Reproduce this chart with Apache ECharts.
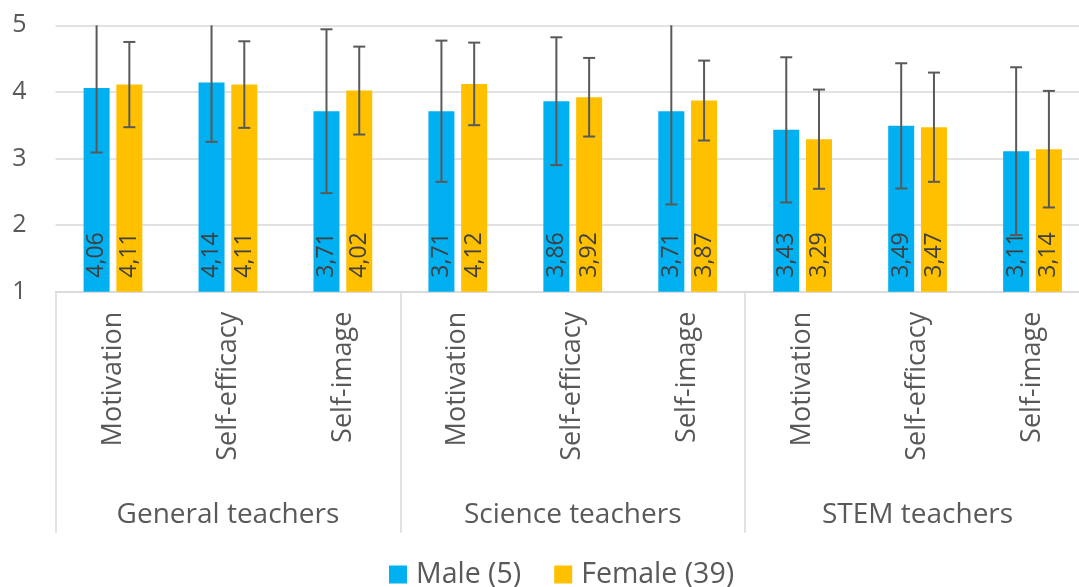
<!DOCTYPE html>
<html>
<head>
<meta charset="utf-8">
<script src="https://cdn.jsdelivr.net/npm/echarts@6/dist/echarts.min.js"></script>
<style>
  html, body { margin: 0; padding: 0; background: #fff; overflow: hidden; }
  /* le dernier groupe dépasse un peu à droite, comme sur l'original */
  #chart { width: 1090px; height: 587px; }
</style>
</head>
<body>
<div id="chart"></div>
<script>
// valeurs (moyennes + écart-type)
var categories = ['Motivation', 'Self-efficacy', 'Self-image',
  'Motivation', 'Self-efficacy', 'Self-image',
  'Motivation', 'Self-efficacy', 'Self-image']
var groups = ['General teachers', 'Science teachers', 'STEM teachers']
var yTicks = [1, 2, 3, 4, 5]

var maleName = 'Male (5)'
var femaleName = 'Female (39)'
var maleData = [4.06, 4.14, 3.71, 3.71, 3.86, 3.71, 3.43, 3.49, 3.11]
var femaleData = [4.11, 4.11, 4.02, 4.12, 3.92, 3.87, 3.29, 3.47, 3.14]
var maleSd = [0.97, 0.89, 1.23, 1.06, 0.96, 1.40, 1.09, 0.94, 1.26]
var femaleSd = [0.64, 0.65, 0.66, 0.62, 0.59, 0.60, 0.745, 0.82, 0.875]

var FONT = 'Open Sans'
var TXT = '#595959'
var LINE = '#d9d9d9'
var BAR_W = 26
var BAR_GAP = 0.26
var Y_MAX = yTicks[yTicks.length - 1]

var chart = echarts.init(document.getElementById('chart'))

function errorSeries(name, means, sds, side) {
  var offset = side * (BAR_W + BAR_W * BAR_GAP) / 2
  return {
    name: name,
    type: 'custom',
    z: 5,
    silent: true,
    data: means.map(function (m, i) { return [i, m, sds[i]] }),
    encode: { x: 0, y: 1 },
    renderItem: function (params, api) {
      var idx = api.value(0)
      var m = api.value(1)
      var sd = api.value(2)
      var hi = m + sd
      var lo = m - sd
      var top = api.coord([idx, Math.min(hi, Y_MAX)])
      var bot = api.coord([idx, lo])
      var x = top[0] + offset
      var style = { stroke: '#595959', lineWidth: 2 }
      var children = [
        { type: 'line', shape: { x1: x, y1: top[1], x2: x, y2: bot[1] }, style: style },
        { type: 'line', shape: { x1: x - 6, y1: bot[1], x2: x + 6, y2: bot[1] }, style: style }
      ]
      // la barre d'erreur est coupée au bord du graphique, pas de chapeau
      if (hi <= Y_MAX) {
        children.push({ type: 'line', shape: { x1: x - 6, y1: top[1], x2: x + 6, y2: top[1] }, style: style })
      }
      return { type: 'group', children: children }
    }
  }
}

var barLabel = {
  show: true,
  position: 'insideBottom',
  rotate: 90,
  align: 'left',
  verticalAlign: 'middle',
  distance: 14,
  color: '#404040',
  fontFamily: FONT,
  fontSize: 23,
  formatter: function (p) { return p.value.toFixed(2).replace('.', ',') }
}

chart.setOption({
  animation: false,
  textStyle: { fontFamily: FONT },
  grid: {
    left: 55.5,
    top: 25.3,
    width: 1034.5,
    height: 266.4,
    containLabel: false,
    outerBoundsMode: 'none'
  },
  legend: {
    data: [maleName, femaleName],
    left: 389,
    top: 560,
    padding: 0,
    itemWidth: 18,
    itemHeight: 18,
    itemGap: 33,
    icon: 'rect',
    textStyle: { color: TXT, fontSize: 28.5, fontFamily: FONT, padding: [0, 0, 0, 4] }
  },
  xAxis: [
    {
      type: 'category',
      data: categories,
      axisLine: { lineStyle: { color: LINE, width: 1.5 } },
      axisTick: { show: false },
      axisLabel: {
        interval: 0,
        rotate: 90,
        margin: 20,
        color: TXT,
        fontSize: 27,
        fontFamily: FONT
      }
    },
    {
      type: 'category',
      data: groups,
      position: 'bottom',
      axisLine: { show: false },
      axisTick: { show: true, length: 241, lineStyle: { color: LINE, width: 1.5 } },
      axisLabel: {
        interval: 0,
        margin: 209,
        color: TXT,
        fontSize: 28,
        fontFamily: FONT
      }
    }
  ],
  yAxis: {
    type: 'value',
    min: yTicks[0],
    max: Y_MAX,
    interval: 1,
    axisLine: { show: false },
    axisTick: { show: false },
    splitLine: { lineStyle: { color: LINE, width: 1.5 } },
    axisLabel: { margin: 29, color: TXT, fontSize: 25, fontFamily: FONT }
  },
  series: [
    {
      name: maleName,
      type: 'bar',
      data: maleData,
      barWidth: BAR_W,
      barGap: (BAR_GAP * 100) + '%',
      itemStyle: { color: '#00B0F0' },
      label: barLabel
    },
    {
      name: femaleName,
      type: 'bar',
      data: femaleData,
      barWidth: BAR_W,
      itemStyle: { color: '#FFC000' },
      label: barLabel
    },
    errorSeries('maleErr', maleData, maleSd, -1),
    errorSeries('femaleErr', femaleData, femaleSd, 1)
  ]
})
</script>
</body>
</html>
